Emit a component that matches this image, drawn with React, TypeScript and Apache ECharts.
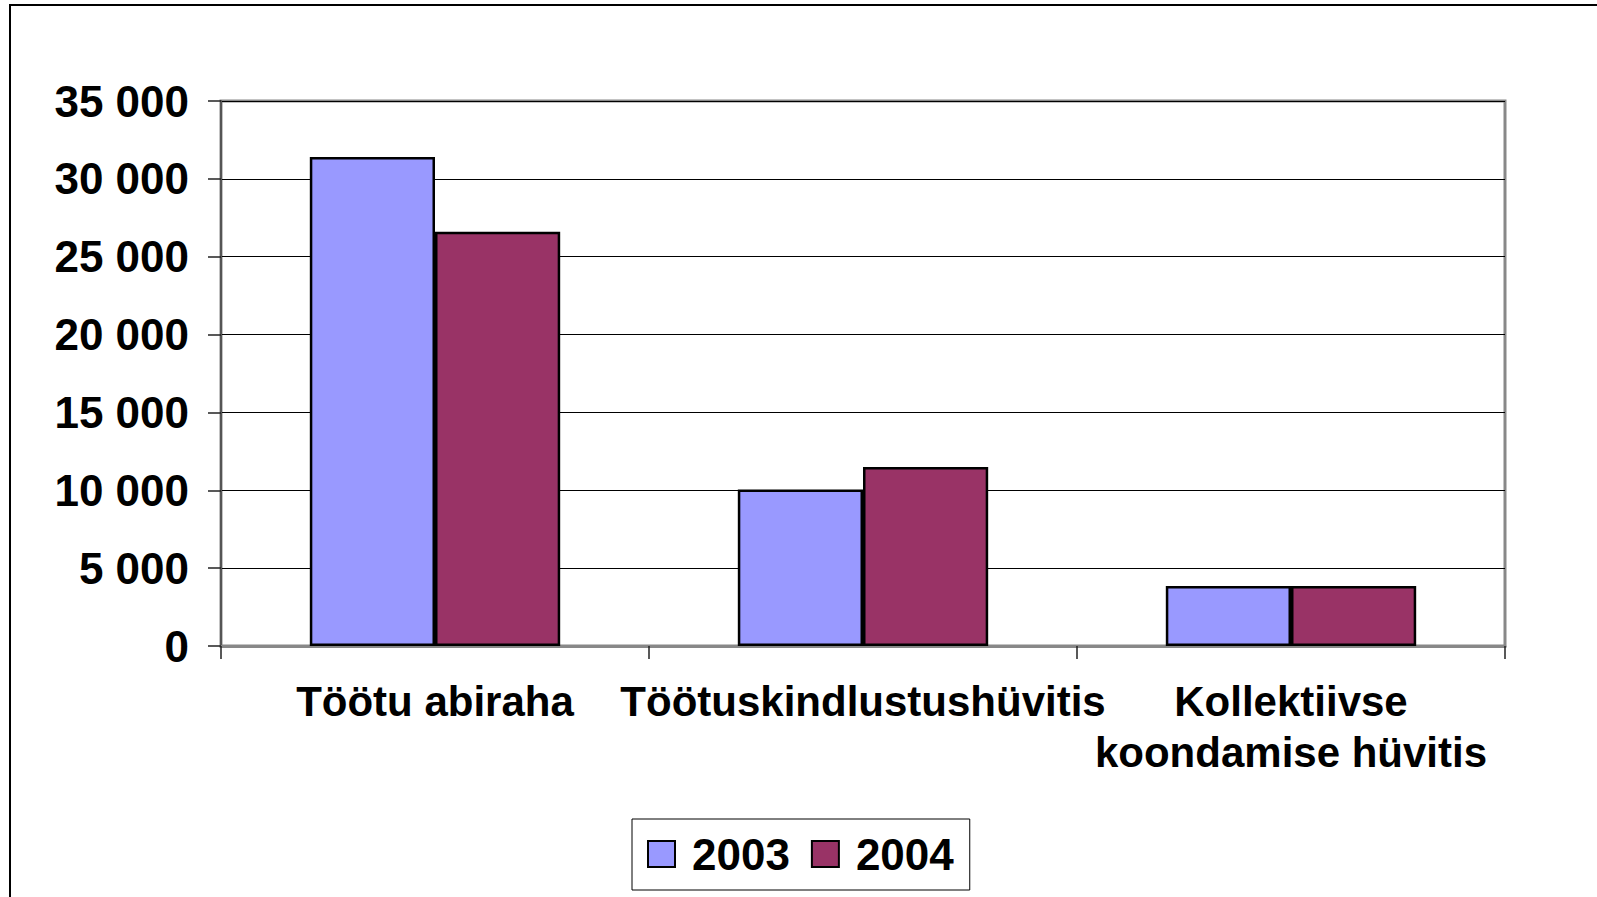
import React, { useEffect, useRef } from "react";
import * as echarts from "echarts";

const categories = ["Töötu abiraha", "Töötuskindlustushüvitis", "Kollektiivse\nkoondamise hüvitis"];
const seriesNames = ["2003", "2004"];
const values2003 = [31400, 10050, 3850];
const values2004 = [26600, 11500, 3850];
const colors = ["#9999FF", "#993366"];

const fmt = (v: number) => String(v).replace(/\B(?=(\d{3})+(?!\d))/g, " ");

export default function App() {
  const ref = useRef<HTMLDivElement>(null);
  useEffect(() => {
    if (!ref.current) return;
    const chart = echarts.init(ref.current, undefined, { renderer: "svg" });
    const font = "'Liberation Sans', Arial, sans-serif";
    chart.setOption({
      animation: false,
      backgroundColor: "#fff",
      textStyle: { fontFamily: font },
      graphic: [
        {
          type: "rect",
          shape: { x: 10, y: 5, width: 1700, height: 1000 },
          style: { fill: "none", stroke: "#000", lineWidth: 2 },
          silent: true,
        },
      ],
      grid: {
        left: 221,
        right: 92,
        top: 101,
        bottom: 251,
        show: true,
        borderColor: "#888",
        borderWidth: 3,
        backgroundColor: "transparent",
      },
      legend: {
        left: 632,
        top: 819,
        orient: "horizontal",
        data: seriesNames,
        icon: "rect",
        itemWidth: 27,
        itemHeight: 26,
        itemGap: 21,
        padding: [13, 16, 14, 15],
        borderColor: "#000",
        borderWidth: 1,
        itemStyle: { borderColor: "#000", borderWidth: 2 },
        textStyle: {
          fontFamily: font,
          fontSize: 44,
          fontWeight: "bold",
          color: "#000",
          padding: [0, 0, 0, 12],
        },
      },
      xAxis: {
        type: "category",
        data: categories,
        axisLine: { show: true, lineStyle: { color: "#888", width: 3 } },
        axisTick: { show: true, length: 13, lineStyle: { color: "#222", width: 1.5 } },
        axisLabel: {
          interval: 0,
          fontFamily: font,
          fontSize: 42,
          fontWeight: "bold",
          color: "#000",
          lineHeight: 51,
          margin: 30,
        },
        splitLine: { show: false },
      },
      yAxis: {
        type: "value",
        min: 0,
        max: 35000,
        interval: 5000,
        axisLine: { show: true, lineStyle: { color: "#555", width: 2 } },
        axisTick: { show: true, length: 13, lineStyle: { color: "#222", width: 1.5 } },
        axisLabel: {
          fontFamily: font,
          fontSize: 44,
          fontWeight: "bold",
          color: "#000",
          margin: 32,
          formatter: (v: number) => fmt(v),
        },
        splitLine: { show: true, lineStyle: { color: "#000", width: 1 } },
      },
      series: [
        {
          name: seriesNames[0],
          type: "bar",
          data: values2003,
          barGap: "0%",
          barCategoryGap: "41.5%",
          itemStyle: { color: colors[0], borderColor: "#000", borderWidth: 2.5 },
        },
        {
          name: seriesNames[1],
          type: "bar",
          data: values2004,
          barGap: "0%",
          barCategoryGap: "41.5%",
          itemStyle: { color: colors[1], borderColor: "#000", borderWidth: 2.5 },
        },
      ],
    });
    return () => chart.dispose();
  }, []);
  return (
    <div
      ref={ref}
      style={{ position: "absolute", left: 0, top: 0, width: 1597, height: 897 }}
    />
  );
}
